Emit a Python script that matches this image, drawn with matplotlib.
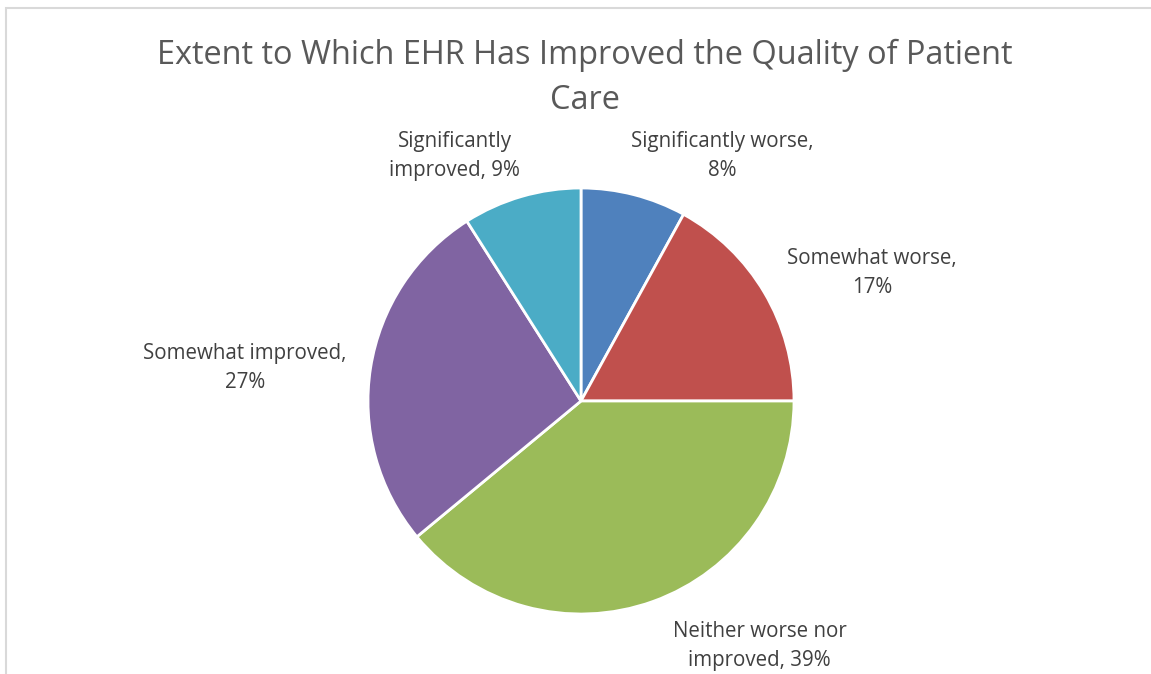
import matplotlib.pyplot as plt
from matplotlib.patches import Rectangle

categories = ["Significantly worse", "Somewhat worse", "Neither worse nor\nimproved",
              "Somewhat improved", "Significantly\nimproved"]
values = [8, 17, 39, 27, 9]
colors = ["#4F81BD", "#C0504D", "#9BBB59", "#8064A2", "#4BACC6"]
label_texts = ["Significantly worse,\n8%", "Somewhat worse,\n17%",
               "Neither worse nor\nimproved, 39%", "Somewhat improved,\n27%",
               "Significantly\nimproved, 9%"]
# label centres in units of pie radius
label_pos = [(0.662, 1.149), (1.366, 0.601), (0.839, -1.150), (-1.577, 0.155), (-0.592, 1.149)]

plt.rcParams['font.family'] = ['Open Sans', 'DejaVu Sans']

W, H = 1151, 674
fig = plt.figure(figsize=(W / 100, H / 100), dpi=100)

# chart frame
fig.patches.append(Rectangle((6 / W, -0.1), 1.2, 1 - 8 / H + 0.1, transform=fig.transFigure,
                             fill=False, edgecolor="#D9D9D9", linewidth=1.5))

cx, cy, r = 581, 401, 213
ax = fig.add_axes([(cx - r) / W, 1 - (cy + r) / H, 2 * r / W, 2 * r / H])
ax.pie(values, colors=colors, startangle=90, counterclock=False, radius=1,
       wedgeprops=dict(edgecolor="white", linewidth=2))
ax.set_xlim(-1, 1)
ax.set_ylim(-1, 1)
ax.set_aspect("equal")
ax.axis("off")

for txt, (x, y) in zip(label_texts, label_pos):
    ax.text(x, y, txt, ha="center", va="center", fontsize=14.8, color="#404040",
            linespacing=1.5, clip_on=False)

fig.text(0.508, 1 - 78 / H, "Extent to Which EHR Has Improved the Quality of Patient\nCare",
         ha="center", va="center", fontsize=23.4, color="#595959", linespacing=1.48)

fig.savefig("out.png", dpi=100)
